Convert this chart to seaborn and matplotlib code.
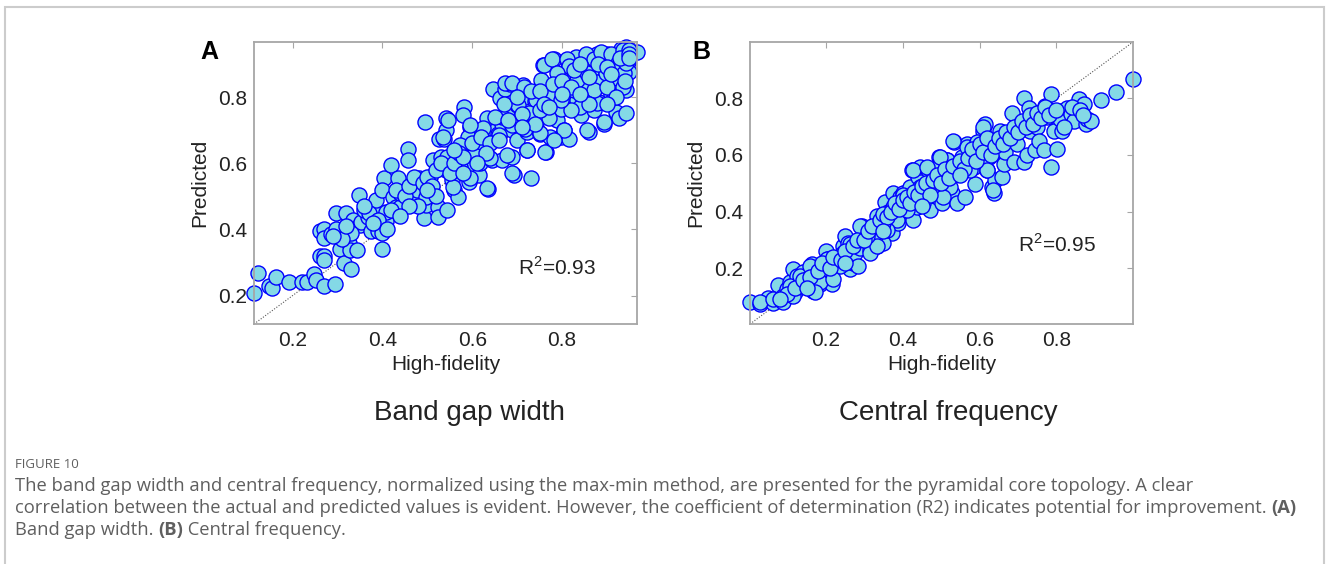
import numpy as np
import pandas as pd
import matplotlib
matplotlib.use("Agg")
import matplotlib.pyplot as plt
import matplotlib.patches as mpatches
import seaborn as sns

# ---------------- data ----------------
bandgap_hf = [
    0.114, 0.122, 0.148, 0.154, 0.163, 0.193, 0.222, 0.233, 0.248, 0.252, 0.269, 0.294,
    0.260, 0.269, 0.269, 0.260, 0.271, 0.269, 0.286, 0.297, 0.297, 0.318, 0.305, 0.326,
    0.314, 0.329, 0.328, 0.344, 0.334, 0.349, 0.353, 0.347, 0.368, 0.379, 0.386, 0.375,
    0.390, 0.399, 0.400, 0.409, 0.409, 0.403, 0.398, 0.420, 0.424, 0.431, 0.439, 0.435,
    0.439, 0.457, 0.457, 0.468, 0.477, 0.472, 0.481, 0.495, 0.493, 0.498, 0.498, 0.507,
    0.513, 0.524, 0.530, 0.524, 0.543, 0.527, 0.537, 0.542, 0.541, 0.542, 0.552, 0.555,
    0.559, 0.569, 0.572, 0.582, 0.580, 0.595, 0.591, 0.588, 0.593, 0.603, 0.614, 0.610,
    0.606, 0.618, 0.633, 0.640, 0.636, 0.647, 0.633, 0.644, 0.662, 0.658, 0.666, 0.666,
    0.673, 0.684, 0.681, 0.688, 0.688, 0.692, 0.699, 0.699, 0.707, 0.714, 0.721, 0.721,
    0.732, 0.717, 0.736, 0.739, 0.743, 0.754, 0.758, 0.765, 0.750, 0.767, 0.774, 0.782,
    0.782, 0.789, 0.797, 0.797, 0.804, 0.812, 0.816, 0.816, 0.823, 0.831, 0.834, 0.842,
    0.849, 0.853, 0.861, 0.858, 0.871, 0.875, 0.882, 0.879, 0.882, 0.893, 0.897, 0.901,
    0.908, 0.916, 0.920, 0.924, 0.927, 0.931, 0.938, 0.942, 0.942, 0.946, 0.949, 0.967,
    0.674, 0.689, 0.715, 0.759, 0.778, 0.812, 0.815, 0.853, 0.871, 0.886, 0.908, 0.924,
    0.942, 0.935, 0.949, 0.879, 0.897, 0.923, 0.935, 0.916, 0.879, 0.856, 0.841, 0.819,
    0.770, 0.752, 0.718, 0.703, 0.689, 0.666, 0.659, 0.625, 0.633, 0.610, 0.595, 0.573,
    0.547, 0.536, 0.543, 0.573, 0.603, 0.640, 0.677, 0.689, 0.633, 0.595, 0.558, 0.722,
    0.763, 0.804, 0.782, 0.856, 0.893, 0.826, 0.834, 0.774, 0.741, 0.726, 0.752, 0.797,
    0.871, 0.901, 0.938, 0.942, 0.856, 0.826, 0.789,
    0.36, 0.37, 0.39, 0.42, 0.43, 0.45, 0.46, 0.47, 0.49, 0.50, 0.51, 0.52, 0.53, 0.55,
    0.56, 0.57, 0.58, 0.60, 0.62, 0.64, 0.65, 0.67, 0.70, 0.71, 0.73, 0.75, 0.76, 0.78,
    0.80, 0.82, 0.84, 0.86, 0.88, 0.90, 0.91, 0.93, 0.95, 0.95, 0.94, 0.92, 0.90, 0.86,
    0.84, 0.80, 0.77, 0.74, 0.71, 0.68, 0.66, 0.63, 0.61, 0.58, 0.56, 0.52, 0.50, 0.48,
    0.46, 0.44, 0.41, 0.38, 0.33, 0.31, 0.29, 0.32, 0.36,
]
bandgap_pred = [
    0.208, 0.268, 0.228, 0.223, 0.256, 0.241, 0.241, 0.241, 0.265, 0.248, 0.228, 0.236,
    0.319, 0.319, 0.309, 0.394, 0.401, 0.374, 0.387, 0.401, 0.449, 0.451, 0.342, 0.359,
    0.300, 0.280, 0.339, 0.339, 0.430, 0.414, 0.424, 0.503, 0.439, 0.469, 0.489, 0.394,
    0.394, 0.389, 0.341, 0.426, 0.454, 0.555, 0.520, 0.595, 0.499, 0.469, 0.469, 0.555,
    0.509, 0.643, 0.610, 0.489, 0.519, 0.555, 0.555, 0.724, 0.434, 0.474, 0.499, 0.560,
    0.610, 0.469, 0.620, 0.439, 0.459, 0.675, 0.675, 0.737, 0.700, 0.580, 0.610, 0.550,
    0.520, 0.499, 0.605, 0.771, 0.746, 0.711, 0.680, 0.590, 0.545, 0.630, 0.565, 0.655,
    0.620, 0.600, 0.660, 0.700, 0.522, 0.826, 0.736, 0.610, 0.797, 0.690, 0.720, 0.610,
    0.826, 0.841, 0.756, 0.700, 0.620, 0.565, 0.776, 0.670, 0.736, 0.836, 0.640, 0.695,
    0.555, 0.800, 0.750, 0.790, 0.710, 0.851, 0.896, 0.635, 0.690, 0.760, 0.680, 0.917,
    0.826, 0.730, 0.680, 0.765, 0.700, 0.881, 0.675, 0.806, 0.851, 0.922, 0.791, 0.746,
    0.836, 0.821, 0.695, 0.911, 0.761, 0.876, 0.846, 0.932, 0.786, 0.720, 0.871, 0.932,
    0.811, 0.901, 0.756, 0.861, 0.736, 0.947, 0.942, 0.751, 0.821, 0.906, 0.876, 0.937,
    0.842, 0.843, 0.831, 0.897, 0.917, 0.917, 0.894, 0.932, 0.917, 0.937, 0.932, 0.902,
    0.952, 0.942, 0.942, 0.847, 0.872, 0.857, 0.831, 0.801, 0.781, 0.796, 0.771, 0.761,
    0.736, 0.691, 0.703, 0.776, 0.716, 0.741, 0.686, 0.706, 0.665, 0.645, 0.716, 0.655,
    0.731, 0.680, 0.620, 0.590, 0.625, 0.615, 0.625, 0.570, 0.524, 0.555, 0.529, 0.640,
    0.635, 0.701, 0.670, 0.701, 0.726, 0.821, 0.852, 0.806, 0.791, 0.751, 0.761, 0.791,
    0.821, 0.831, 0.872, 0.902, 0.872, 0.882, 0.872,
    0.46, 0.45, 0.43, 0.46, 0.52, 0.50, 0.53, 0.56, 0.54, 0.56, 0.53, 0.58, 0.60, 0.57,
    0.60, 0.63, 0.62, 0.66, 0.68, 0.66, 0.74, 0.78, 0.80, 0.75, 0.82, 0.82, 0.78, 0.84,
    0.85, 0.83, 0.90, 0.86, 0.90, 0.89, 0.87, 0.92, 0.93, 0.92, 0.85, 0.80, 0.78, 0.78,
    0.81, 0.81, 0.77, 0.72, 0.71, 0.73, 0.67, 0.63, 0.60, 0.57, 0.64, 0.50, 0.52, 0.47,
    0.47, 0.44, 0.40, 0.42, 0.39, 0.37, 0.38, 0.41, 0.47,
]

central_hf = [
    0.003, 0.029, 0.051, 0.064, 0.077, 0.085, 0.090, 0.098, 0.107, 0.116, 0.120, 0.126,
    0.133, 0.142, 0.150, 0.155, 0.164, 0.168, 0.177, 0.185, 0.194, 0.200, 0.207, 0.216,
    0.220, 0.229, 0.237, 0.246, 0.250, 0.259, 0.263, 0.272, 0.276, 0.285, 0.289, 0.294,
    0.302, 0.311, 0.315, 0.324, 0.333, 0.333, 0.342, 0.350, 0.355, 0.363, 0.368, 0.372,
    0.376, 0.385, 0.389, 0.394, 0.402, 0.406, 0.411, 0.420, 0.424, 0.428, 0.433, 0.437,
    0.441, 0.446, 0.454, 0.459, 0.467, 0.472, 0.476, 0.481, 0.489, 0.494, 0.498, 0.502,
    0.511, 0.515, 0.524, 0.528, 0.533, 0.533, 0.541, 0.546, 0.554, 0.563, 0.567, 0.572,
    0.576, 0.585, 0.589, 0.593, 0.602, 0.610, 0.615, 0.619, 0.624, 0.628, 0.632, 0.637,
    0.641, 0.650, 0.654, 0.659, 0.663, 0.667, 0.676, 0.685, 0.689, 0.698, 0.706, 0.715,
    0.715, 0.724, 0.728, 0.732, 0.737, 0.745, 0.750, 0.754, 0.767, 0.771, 0.776, 0.785,
    0.786, 0.793, 0.802, 0.806, 0.810, 0.815, 0.828, 0.837, 0.845, 0.858, 0.863, 0.871,
    0.876, 0.880, 0.889, 0.916, 0.954, 0.999,
    0.302, 0.341, 0.376, 0.402, 0.428, 0.463, 0.489, 0.515, 0.524, 0.550, 0.567, 0.593,
    0.615, 0.619, 0.636, 0.610, 0.532, 0.498, 0.446, 0.385, 0.350, 0.315, 0.454, 0.506,
    0.576, 0.411, 0.359, 0.328,
    0.029, 0.064, 0.090, 0.107, 0.133, 0.159, 0.185, 0.203, 0.237, 0.263, 0.289, 0.333,
    0.350, 0.116, 0.151, 0.172, 0.220, 0.246, 0.307,
    0.10, 0.12, 0.14, 0.16, 0.18, 0.19, 0.21, 0.22, 0.24, 0.25, 0.27, 0.28, 0.30, 0.31,
    0.32, 0.34, 0.35, 0.36, 0.37, 0.38, 0.39, 0.40, 0.41, 0.42, 0.43, 0.44, 0.45, 0.46,
    0.47, 0.48, 0.49, 0.50, 0.51, 0.52, 0.53, 0.55, 0.56, 0.57, 0.58, 0.59, 0.60, 0.61,
    0.62, 0.63, 0.64, 0.65, 0.66, 0.67, 0.68, 0.69, 0.70, 0.71, 0.72, 0.73, 0.74, 0.75,
    0.76, 0.77, 0.78, 0.80, 0.82, 0.84, 0.86, 0.87, 0.55, 0.45, 0.35, 0.25, 0.15, 0.08,
]
central_pred = [
    0.082, 0.074, 0.094, 0.078, 0.141, 0.086, 0.103, 0.127, 0.150, 0.196, 0.115, 0.173,
    0.138, 0.185, 0.150, 0.173, 0.214, 0.121, 0.167, 0.144, 0.196, 0.261, 0.231, 0.144,
    0.196, 0.220, 0.243, 0.278, 0.313, 0.290, 0.196, 0.220, 0.255, 0.208, 0.272, 0.348,
    0.313, 0.313, 0.266, 0.336, 0.383, 0.278, 0.354, 0.336, 0.435, 0.400, 0.365, 0.325,
    0.464, 0.418, 0.360, 0.453, 0.464, 0.406, 0.430, 0.488, 0.546, 0.371, 0.459, 0.418,
    0.522, 0.558, 0.453, 0.487, 0.546, 0.406, 0.487, 0.522, 0.488, 0.593, 0.569, 0.430,
    0.511, 0.581, 0.546, 0.464, 0.645, 0.528, 0.430, 0.569, 0.593, 0.453, 0.639, 0.557,
    0.616, 0.557, 0.499, 0.639, 0.604, 0.686, 0.709, 0.546, 0.593, 0.651, 0.488, 0.464,
    0.511, 0.639, 0.686, 0.522, 0.569, 0.610, 0.662, 0.750, 0.575, 0.639, 0.709, 0.802,
    0.575, 0.599, 0.767, 0.686, 0.727, 0.616, 0.698, 0.651, 0.616, 0.773, 0.733, 0.814,
    0.558, 0.686, 0.622, 0.756, 0.727, 0.686, 0.767, 0.744, 0.721, 0.796, 0.756, 0.779,
    0.709, 0.727, 0.721, 0.794, 0.823, 0.869,
    0.319, 0.360, 0.418, 0.459, 0.546, 0.558, 0.511, 0.581, 0.488, 0.546, 0.628, 0.645,
    0.581, 0.546, 0.476, 0.698, 0.651, 0.593, 0.488, 0.371, 0.290, 0.255, 0.430, 0.453,
    0.546, 0.406, 0.336, 0.313,
    0.080, 0.092, 0.080, 0.138, 0.173, 0.208, 0.150, 0.231, 0.208, 0.284, 0.348, 0.278,
    0.360, 0.103, 0.162, 0.115, 0.162, 0.255, 0.313,
    0.11, 0.13, 0.16, 0.17, 0.19, 0.22, 0.20, 0.24, 0.23, 0.26, 0.28, 0.30, 0.30, 0.33,
    0.35, 0.37, 0.39, 0.38, 0.40, 0.43, 0.41, 0.44, 0.45, 0.43, 0.47, 0.46, 0.49, 0.50,
    0.46, 0.51, 0.53, 0.50, 0.55, 0.52, 0.56, 0.58, 0.55, 0.59, 0.62, 0.58, 0.64, 0.61,
    0.66, 0.60, 0.63, 0.66, 0.64, 0.68, 0.66, 0.70, 0.68, 0.72, 0.70, 0.74, 0.71, 0.75,
    0.73, 0.77, 0.74, 0.76, 0.70, 0.77, 0.76, 0.74, 0.53, 0.42, 0.33, 0.22, 0.13, 0.09,
]

panel_letters = ["A", "B"]
panel_titles = ["Band gap width", "Central frequency"]
r2_texts = [r"R$^{\mathregular{2}}$=0.93", r"R$^{\mathregular{2}}$=0.95"]
tick_vals = [0.2, 0.4, 0.6, 0.8]
tick_labels = ["0.2", "0.4", "0.6", "0.8"]

caption_head = "FIGURE 10"
caption_l1 = ("The band gap width and central frequency, normalized using the max-min method, "
              "are presented for the pyramidal core topology. A clear")
caption_l2a = ("correlation between the actual and predicted values is evident. However, the "
               "coefficient of determination (R2) indicates potential for improvement. ")
caption_l2b = "(A)"
caption_l3a = "Band gap width. "
caption_l3b = "(B)"
caption_l3c = " Central frequency."

# ---------------- style ----------------
sns.set_theme(style="white")
plt.rcParams["font.family"] = ["Liberation Sans", "DejaVu Sans"]
plt.rcParams["mathtext.fontset"] = "custom"
plt.rcParams["mathtext.rm"] = "Liberation Sans"

W, H = 1328, 564
fig = plt.figure(figsize=(W / 100, H / 100), dpi=100)
fig.patch.set_facecolor("white")

face = "#84d9e6"
edge = "#0000ff"
spine_c = "#a6a6a6"

axes_px = [(254, 42, 637, 324), (750, 42, 1133, 324)]
datasets = [(bandgap_hf, bandgap_pred), (central_hf, central_pred)]
r2_pos = [(0.689, 0.199), (0.700, 0.281)]
title_cx = [469, 948]
letter_x = [209, 701]

for i, ((x0, y0, x1, y1), (xs, ys)) in enumerate(zip(axes_px, datasets)):
    ax = fig.add_axes([x0 / W, 1 - y1 / H, (x1 - x0) / W, (y1 - y0) / H])
    df = pd.DataFrame({"hf": xs, "pred": ys})
    lo = min(df["hf"].min(), df["pred"].min())
    hi = max(df["hf"].max(), df["pred"].max())
    ax.plot([lo, hi], [lo, hi], linestyle=(0, (1, 1.5)), color="#555555", lw=0.8, zorder=1)
    sns.scatterplot(data=df, x="hf", y="pred", ax=ax, s=118, color=face,
                    edgecolor=edge, linewidth=1.0, clip_on=False, zorder=3, legend=False)
    ax.set_xlim(lo, hi)
    ax.set_ylim(lo, hi)
    ax.set_xticks(tick_vals)
    ax.set_xticklabels(tick_labels)
    ax.set_yticks(tick_vals)
    ax.set_yticklabels(tick_labels)
    ax.tick_params(direction="in", length=4, width=0.8, color=spine_c,
                   top=True, right=True, labelsize=15, labelcolor="#222222", pad=5)
    for sp in ax.spines.values():
        sp.set_color(spine_c)
        sp.set_linewidth(1.3)
        sp.set_zorder(5)
    ax.set_xlabel("High-fidelity", fontsize=15, color="#222222", labelpad=4)
    ax.set_ylabel("Predicted", fontsize=15, color="#222222", labelpad=6)
    ax.text(r2_pos[i][0], r2_pos[i][1], r2_texts[i], transform=ax.transAxes,
            fontsize=15, color="#222222", ha="left", va="center")
    fig.text(title_cx[i] / W, 1 - 413 / H, panel_titles[i], fontsize=20,
             color="#222222", ha="center", va="center")
    fig.text(letter_x[i] / W, 1 - 52 / H, panel_letters[i], fontsize=18,
             fontweight="bold", color="black", ha="center", va="center")

# border
fig.add_artist(mpatches.Rectangle((4.5 / W, -0.05), (1323.5 - 4.5) / W, 1.05 - 6.5 / H,
                                  transform=fig.transFigure, fill=False,
                                  edgecolor="#cccccc", lw=1.5))

# caption
cap_c = "#5f5f5f"
cap_font = ["Open Sans", "DejaVu Sans"]
cap_fs = 13.2
cx = 15 / W
fig.text(cx, 1 - 465 / H, caption_head, fontsize=9.5, color=cap_c, family=cap_font,
         ha="left", va="center")
fig.text(cx, 1 - 486 / H, caption_l1, fontsize=cap_fs, color=cap_c, family=cap_font,
         ha="left", va="center")
t2a = fig.text(cx, 1 - 508 / H, caption_l2a, fontsize=cap_fs, color=cap_c, family=cap_font,
               ha="left", va="center")
t3a = fig.text(cx, 1 - 530 / H, caption_l3a, fontsize=cap_fs, color=cap_c, family=cap_font,
               ha="left", va="center")
fig.canvas.draw()
r = fig.canvas.get_renderer()
bb2 = t2a.get_window_extent(r)
fig.text(bb2.x1 / W, 1 - 508 / H, caption_l2b, fontsize=cap_fs, color=cap_c, family=cap_font,
         fontweight="bold", ha="left", va="center")
bb3 = t3a.get_window_extent(r)
t3b = fig.text(bb3.x1 / W, 1 - 530 / H, caption_l3b, fontsize=cap_fs, color=cap_c,
               family=cap_font, fontweight="bold", ha="left", va="center")
fig.canvas.draw()
bb3b = t3b.get_window_extent(r)
fig.text(bb3b.x1 / W, 1 - 530 / H, caption_l3c, fontsize=cap_fs, color=cap_c, family=cap_font,
         ha="left", va="center")

fig.savefig("out.png", dpi=100, facecolor="white")
